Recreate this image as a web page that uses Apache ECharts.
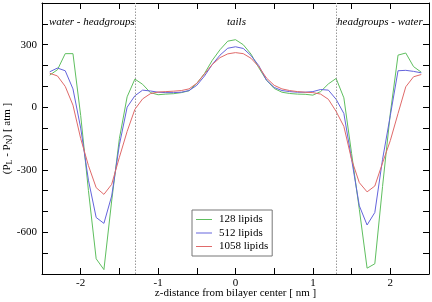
<!DOCTYPE html>
<html>
<head>
<meta charset="utf-8">
<style>
html,body{margin:0;padding:0;background:#fff;}
#c{width:432px;height:302px;}
</style>
<script src="https://cdn.jsdelivr.net/npm/echarts@6/dist/echarts.min.js"></script>
</head>
<body>
<div id="c"></div>
<script>
// z positions of samples (nm)
var zValues = [-2.4,-2.3,-2.2,-2.1,-2.0,-1.9,-1.8,-1.7,-1.6,-1.5,-1.4,-1.3,-1.2,-1.1,-1.0,-0.9,-0.8,-0.7,-0.6,-0.5,-0.4,-0.3,-0.2,-0.1,0,
               0.1,0.2,0.3,0.4,0.5,0.6,0.7,0.8,0.9,1.0,1.1,1.2,1.3,1.4,1.5,1.6,1.7,1.8,1.9,2.0,2.1,2.2,2.3,2.4];
var lipids128 = [154,180,257,257,-40,-400,-727,-779,-450,-150,50,135,110,70,60,63,65,70,79,114,162,225,276,317,324,
                 300,255,190,130,90,72,66,63,62,58,75,112,138,45,-222,-490,-772,-751,-380,-30,250,260,195,168];
var lipids512 = [170,188,175,88,-100,-350,-529,-557,-426,-180,0,55,82,78,72,70,70,72,80,105,150,205,250,283,290,
                 282,248,200,130,95,80,75,72,72,75,85,82,38,-30,-250,-473,-565,-505,-250,-40,175,177,172,165];
var lipids1058 = [163,150,100,10,-150,-280,-386,-418,-370,-240,-116,-10,40,65,73,75,77,80,88,115,160,205,238,256,262,
                  257,235,195,140,105,88,80,75,72,70,63,38,-20,-92,-251,-362,-406,-378,-267,-160,-30,98,146,157];
var seriesNames = ['128 lipids','512 lipids','1058 lipids'];
var seriesColors = ['#5fbf5f','#6464dc','#e06a6a'];
var regionDividers = [-1.3, 1.3];
var regionLabels = ['water - headgroups','tails','headgroups - water'];
var xTickLabels = [-2,-1,0,1,2];
var yTickLabels = [-600,-300,0,300];

function pairs(vals){ return zValues.map(function(z,i){ return [z, vals[i]]; }); }
var allVals = [lipids128, lipids512, lipids1058];

var FONT = 'Liberation Serif';
var chart = echarts.init(document.getElementById('c'), null, {renderer:'canvas'});
var tickCommon = {show:true, inside:true, length:6, lineStyle:{color:'#000', width:1}};
var lineCommon = {show:true, onZero:false, lineStyle:{color:'#000', width:1}};

var series = allVals.map(function(v,i){
  return {
    name: seriesNames[i], type:'line', data: pairs(v), symbol:'none', showSymbol:false,
    lineStyle:{color:seriesColors[i], width:1}, itemStyle:{color:seriesColors[i]},
    animation:false, z: 3 + i
  };
});
series.push({
  type:'line', data:[], silent:true, animation:false,
  markLine:{
    silent:true, symbol:['none','none'], label:{show:false},
    lineStyle:{color:'#999', type:[1.5,1.5], width:1},
    data: regionDividers.map(function(d){ return {xAxis:d}; })
  }
});

chart.setOption({
  backgroundColor:'#fff',
  animation:false,
  grid:{left:42, right:3, top:3, bottom:28, containLabel:false, outerBoundsMode:'none'},
  legend:{
    data: seriesNames, orient:'vertical', left:192, top:210,
    padding:[3,4,3,4], itemGap:0.5, itemWidth:16, itemHeight:10,
    backgroundColor:'#fff', borderColor:'#777', borderWidth:1,
    textStyle:{fontFamily:FONT, fontSize:11, lineHeight:13, color:'#000', padding:[0,0,0,2]},
    icon:'path://M0,5L16,5L16,6L0,6Z'
  },
  xAxis:[{
    type:'value', min:-2.5, max:2.5, interval:0.5, position:'bottom',
    axisLine:lineCommon, axisTick:tickCommon, splitLine:{show:false},
    axisLabel:{fontFamily:FONT, fontSize:11, color:'#000', margin:4,
      formatter:function(v){ return xTickLabels.indexOf(Math.round(v*100)/100) >= 0 ? String(v) : ''; }},
    name:'z-distance from bilayer center [ nm ]', nameLocation:'middle', nameGap:14, nameMoveOverlap:false,
    nameTextStyle:{fontFamily:FONT, fontSize:11, color:'#000', verticalAlign:'top'}
  },{
    type:'value', min:-2.5, max:2.5, interval:0.5, position:'top',
    axisLine:lineCommon, axisTick:tickCommon, axisLabel:{show:false}, splitLine:{show:false}
  }],
  yAxis:[{
    type:'value', min:-800, max:500, interval:100, position:'left',
    axisLine:lineCommon, axisTick:tickCommon, splitLine:{show:false},
    axisLabel:{fontFamily:FONT, fontSize:11, color:'#000', margin:5,
      formatter:function(v){ return yTickLabels.indexOf(v) >= 0 ? String(v) : ''; }},
    name:'(P{s|L} - P{s|N}) [ atm ]', nameLocation:'middle', nameGap:28, nameRotate:90, nameMoveOverlap:false,
    nameTextStyle:{fontFamily:FONT, fontSize:11, color:'#000',
      rich:{s:{fontFamily:FONT, fontSize:8, color:'#000', verticalAlign:'bottom', padding:[6,0,0,0]}}}
  },{
    type:'value', min:-800, max:500, interval:100, position:'right',
    axisLine:lineCommon, axisTick:tickCommon, axisLabel:{show:false}, splitLine:{show:false}
  }],
  graphic:[
    {type:'text', left:49, top:17, style:{text:regionLabels[0], font:'italic 11px "Liberation Serif"', fill:'#000'}},
    {type:'text', left:227, top:17, style:{text:regionLabels[1], font:'italic 11px "Liberation Serif"', fill:'#000'}},
    {type:'text', left:337, top:17, style:{text:regionLabels[2], font:'italic 11px "Liberation Serif"', fill:'#000'}}
  ],
  series: series
});
</script>
</body>
</html>
